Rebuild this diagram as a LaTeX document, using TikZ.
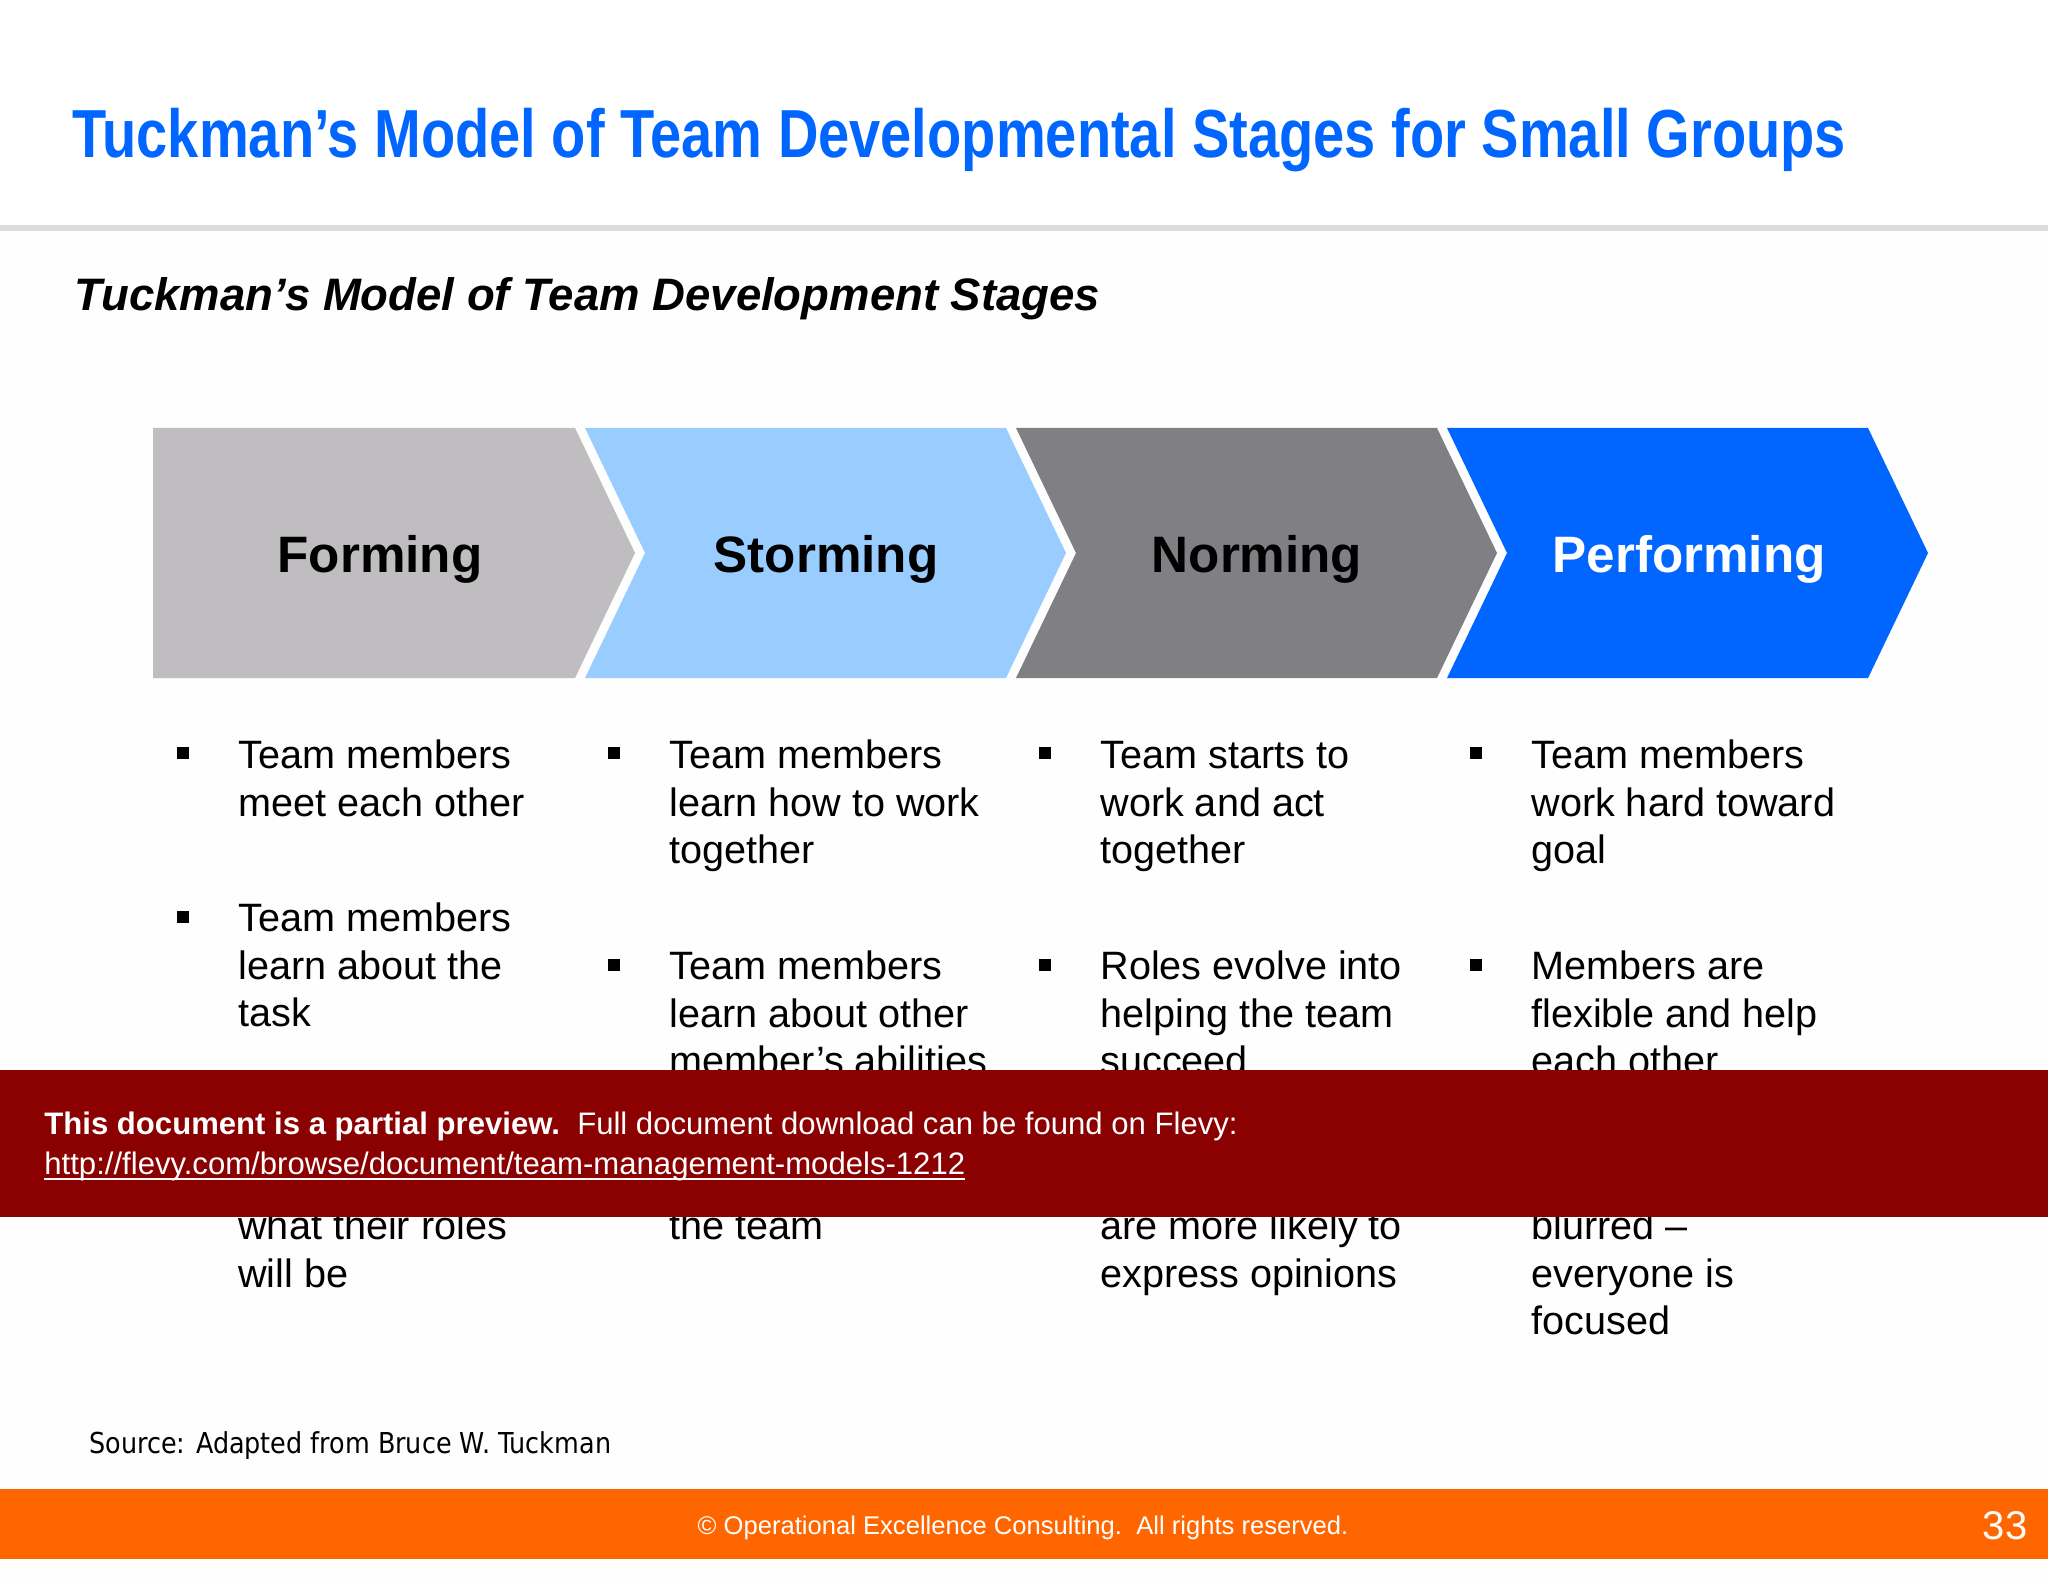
\documentclass[tikz,border=0pt]{standalone}
\usepackage{fontspec}
\usepackage{xcolor}
\setmainfont{Liberation Sans}
\newfontfamily\titlefont[FakeStretch=0.824]{Liberation Sans}
\newfontfamily\sourcefont[FakeStretch=0.883]{DejaVu Sans}
\newcommand{\lead}{\rule{0pt}{16.7pt}}
\definecolor{formgrey}{HTML}{BFBDC0}
\definecolor{stormblue}{HTML}{99CCFF}
\definecolor{normgrey}{HTML}{807F83}
\definecolor{perfblue}{HTML}{0066FF}
\definecolor{footorange}{HTML}{FF6600}
\definecolor{bannerred}{HTML}{8B0000}
\definecolor{rulegrey}{HTML}{DCDCDC}
\definecolor{pagewhite}{HTML}{FEFEFE}
\tikzset{
  stagelabel/.style = {inner sep = 0, anchor = base, font = \fontsize{25.6}{30}\selectfont\bfseries},
  bullettext/.style = {inner sep = 0, anchor = north west, align = left,
    font = \fontsize{19.8}{23.7}\selectfont},
  bulletmark/.style = {inner sep = 0, minimum size = 6.3pt, fill = black}
}
\begin{document}
\begin{tikzpicture}[x = 0.5pt, y = -0.5pt]
\useasboundingbox (0,0) rectangle (2048,1582);
\fill[pagewhite] (0,0) rectangle (2048,1582);
\fill[white] (0,0) rectangle (2048,225);
% heading
\node[inner sep = 0, anchor = base west, text = perfblue, font = \fontsize{34}{40}\selectfont\titlefont\bfseries] (title) at (72,158)
  {Tuckman’s Model of Team Developmental Stages for Small Groups};
\fill[rulegrey] (0,225) rectangle (2048,231);
\node[inner sep = 0, anchor = base west, font = \fontsize{22.75}{27}\selectfont\bfseries\itshape] (subtitle) at (74,311)
  {Tuckman’s Model of Team Development Stages};
% chevrons
\fill[formgrey] (153,428) -- (575,428) -- (635,553) -- (575,678) -- (153,678) -- cycle;
\fill[stormblue] (585,428) -- (1006,428) -- (1066,553) -- (1006,678) -- (585,678) -- (645,553) -- cycle;
\fill[normgrey] (1016,428) -- (1437,428) -- (1497,553) -- (1437,678) -- (1016,678) -- (1076,553) -- cycle;
\fill[perfblue] (1447,428) -- (1868,428) -- (1928,553) -- (1868,678) -- (1447,678) -- (1507,553) -- cycle;
\node[stagelabel] (forming) at (380,573) {Forming};
\node[stagelabel] (storming) at (826,573) {Storming};
\node[stagelabel] (norming) at (1257,573) {Norming};
\node[stagelabel, text = white] (performing) at (1689,573) {Performing};
% first column
\node[bulletmark] (b11) at (183,753) {};
\node[bullettext] (t11) at (238,735) {\lead Team members\\meet each other};
\node[bulletmark] (b12) at (183,917) {};
\node[bullettext] (t12) at (238,898) {\lead Team members\\learn about the\\task};
\node[bullettext] (t13) at (238,1206) {\lead what their roles\\will be};
% second column
\node[bulletmark] (b21) at (614,753) {};
\node[bullettext] (t21) at (669,735) {\lead Team members\\learn how to work\\together};
\node[bulletmark] (b22) at (614,965) {};
\node[bullettext] (t22) at (669,946) {\lead Team members\\learn about other\\member’s abilities};
\node[bullettext] (t23) at (669,1206) {\lead the team};
% third column
\node[bulletmark] (b31) at (1045,753) {};
\node[bullettext] (t31) at (1100,735) {\lead Team starts to\\work and act\\together};
\node[bulletmark] (b32) at (1045,965) {};
\node[bullettext] (t32) at (1100,946) {\lead Roles evolve into\\helping the team\\succeed};
\node[bullettext] (t33) at (1100,1206) {\lead are more likely to\\express opinions};
% fourth column
\node[bulletmark] (b41) at (1476,753) {};
\node[bullettext] (t41) at (1531,735) {\lead Team members\\work hard toward\\goal};
\node[bulletmark] (b42) at (1476,965) {};
\node[bullettext] (t42) at (1531,946) {\lead Members are\\flexible and help\\each other};
\node[bullettext] (t43) at (1531,1206) {\lead blurred --\\everyone is\\focused};
% preview banner
\fill[bannerred] (0,1070) rectangle (2048,1217);
\node[inner sep = 0, anchor = base west, text = white, font = \fontsize{15.55}{19}\selectfont] (preview) at (44,1134)
  {\textbf{This document is a partial preview.}\ \ Full document download can be found on Flevy:};
\node[inner sep = 0, anchor = base west, text = white, font = \fontsize{15.55}{19}\selectfont] (link) at (44,1174)
  {http://flevy.com/browse/document/team-management-models-1212};
\draw[white, line width = 0.8pt] (link.base west) ++(0,5) -- ++(921,0);
% footer
\node[inner sep = 0, anchor = base west, font = \fontsize{14.4}{18}\selectfont\sourcefont] (source) at (89,1453)
  {Source: Adapted from Bruce W. Tuckman};
\fill[footorange] (0,1489) rectangle (2048,1559);
\node[inner sep = 0, anchor = base, text = white, font = \fontsize{12.8}{16}\selectfont] (rights) at (1023,1534)
  {© Operational Excellence Consulting.\ \ All rights reserved.};
\node[inner sep = 0, anchor = base, text = white, font = \fontsize{20}{24}\selectfont] (pagenum) at (2005,1539) {33};
\end{tikzpicture}
\end{document}
